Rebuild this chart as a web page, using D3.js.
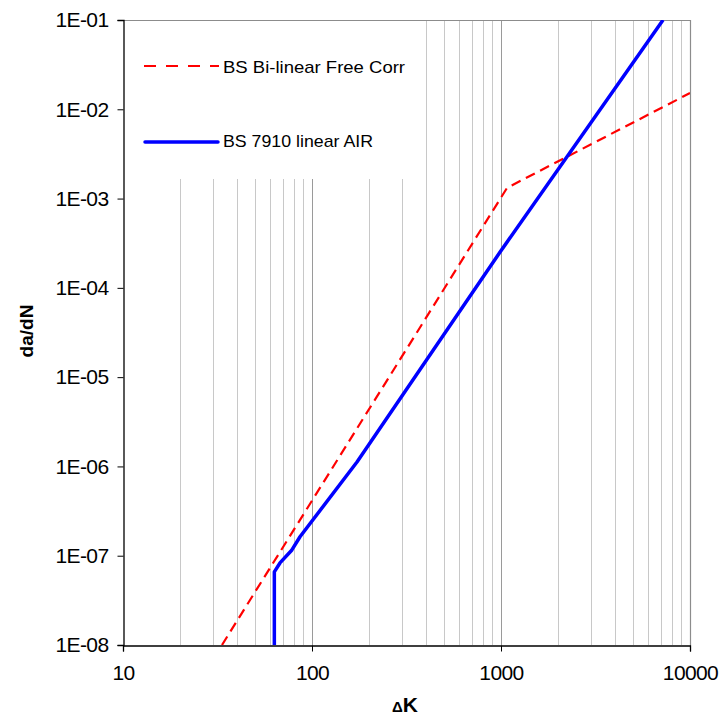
<!DOCTYPE html>
<html>
<head>
<meta charset="utf-8">
<script src="https://cdn.jsdelivr.net/npm/d3@7"></script>
<style>
  html, body { margin: 0; padding: 0; background: #fff; }
  svg { display: block; font-family: "Liberation Sans", Arial, sans-serif; }
</style>
</head>
<body>
<svg id="chart" width="725" height="716"></svg>
<script>
// Crack growth rate curves: da/dN versus stress intensity range
const xTickValues = [10, 100, 1000, 10000];
const xTickLabels = ["10", "100", "1000", "10000"];
const yTickValues = [1e-8, 1e-7, 1e-6, 1e-5, 1e-4, 1e-3, 1e-2, 1e-1];
const yTickLabels = ["1E-08", "1E-07", "1E-06", "1E-05", "1E-04", "1E-03", "1E-02", "1E-01"];

// BS bi-linear law, free corrosion
const freeCorrK    = [33.4, 1077, 10000];
const freeCorrRate = [1e-8, 1.32e-3, 1.52e-2];

// BS 7910 simplified linear law in air (with threshold)
const airK    = [63.2, 63.2, 67.7, 78.3, 86.4, 173, 989, 7200];
const airRate = [1e-8, 6.6e-8, 8.3e-8, 1.16e-7, 1.63e-7, 1.12e-6, 2.52e-4, 1e-1];

const seriesNames = ["BS Bi-linear Free Corr", "BS 7910 linear AIR"];

const svg = d3.select("#chart");
const plotL = 123, plotR = 690, plotT = 20, plotB = 645;

const x = d3.scaleLog().domain([10, 10000]).range([plotL, plotR]);
const y = d3.scaleLog().domain([1e-8, 1e-1]).range([plotB, plotT]);

// vertical grid lines at every minor and major decade step
const gridVals = [];
for (let d = 10; d < 10000; d *= 10) {
  for (let k = 1; k <= 9; k++) {
    const v = d * k;
    if (v > 10 && v < 10000) gridVals.push(v);
  }
}
svg.append("g").selectAll("line").data(gridVals).join("line")
  .attr("x1", d => Math.round(x(d)) + 0.5).attr("x2", d => Math.round(x(d)) + 0.5)
  .attr("y1", plotT).attr("y2", plotB)
  .attr("stroke", d => (d === 100 || d === 1000) ? "#9a9a9a" : "#c8c8c8")
  .attr("stroke-width", 1);

// plot frame: top and right edges grey
svg.append("line").attr("x1", plotL).attr("x2", plotR + 0.5).attr("y1", plotT + 0.5).attr("y2", plotT + 0.5)
  .attr("stroke", "#8c8c8c").attr("stroke-width", 1.2);
svg.append("line").attr("x1", plotR + 0.5).attr("x2", plotR + 0.5).attr("y1", plotT).attr("y2", plotB)
  .attr("stroke", "#8c8c8c").attr("stroke-width", 1.2);

// legend background hides the grid behind it
svg.append("rect").attr("x", plotL + 1).attr("y", plotT + 1)
  .attr("width", 291).attr("height", 158).attr("fill", "#fff");

// clip for data lines
svg.append("defs").append("clipPath").attr("id", "plotClip")
  .append("rect").attr("x", plotL).attr("y", plotT).attr("width", plotR - plotL).attr("height", plotB - plotT);

const line = d3.line().x(d => x(d[0])).y(d => y(d[1]));

const freeCorr = freeCorrK.map((k, i) => [k, freeCorrRate[i]]);
const air = airK.map((k, i) => [k, airRate[i]]);

const plot = svg.append("g").attr("clip-path", "url(#plotClip)");
plot.append("path").datum(freeCorr).attr("d", line)
  .attr("fill", "none").attr("stroke", "#ff0000").attr("stroke-width", 2.2)
  .attr("stroke-dasharray", "10,6").attr("stroke-linejoin", "round");
plot.append("path").datum(air).attr("d", line)
  .attr("fill", "none").attr("stroke", "#0000ff").attr("stroke-width", 3.5)
  .attr("stroke-linejoin", "round");

// axes
const yAxis = d3.axisLeft(y).tickValues(yTickValues)
  .tickFormat((d, i) => yTickLabels[i]).tickSizeOuter(0).tickSize(6).tickPadding(9);
const gy = svg.append("g").attr("transform", `translate(${plotL + 0.5},0)`).call(yAxis);
gy.select(".domain").attr("stroke", "#000").attr("stroke-width", 1.3);
gy.selectAll(".tick line").attr("stroke", "#000");
gy.selectAll(".tick text").attr("font-size", 21).attr("fill", "#000")
  .attr("font-family", "Liberation Sans, Arial, sans-serif").attr("letter-spacing", -0.6);

const xAxis = d3.axisBottom(x).tickValues(xTickValues)
  .tickFormat((d, i) => xTickLabels[i]).tickSizeOuter(0).tickSize(6).tickPadding(14);
const gx = svg.append("g").attr("transform", `translate(0,${plotB + 0.5})`).call(xAxis);
gx.select(".domain").attr("stroke", "#000").attr("stroke-width", 1.3);
gx.selectAll(".tick line").attr("stroke", "#000");
gx.selectAll(".tick text").attr("font-size", 21).attr("fill", "#000")
  .attr("font-family", "Liberation Sans, Arial, sans-serif").attr("letter-spacing", -0.6);

// axis titles
const xt = svg.append("text").attr("x", 392).attr("y", 712)
  .attr("font-weight", "bold").attr("fill", "#000");
xt.append("tspan").attr("font-size", 15).text("Δ");
xt.append("tspan").attr("font-size", 21).text("K");

svg.append("text")
  .attr("transform", "translate(33,331) rotate(-90)")
  .attr("text-anchor", "middle").attr("font-weight", "bold")
  .attr("font-size", 19).attr("fill", "#000").text("da/dN");

// legend
const legend = svg.append("g");
legend.append("line").attr("x1", 144).attr("x2", 219).attr("y1", 66).attr("y2", 66)
  .attr("stroke", "#ff0000").attr("stroke-width", 2.2).attr("stroke-dasharray", "12,10");
legend.append("line").attr("x1", 145).attr("x2", 218).attr("y1", 142).attr("y2", 142)
  .attr("stroke", "#0000ff").attr("stroke-width", 3.5).attr("stroke-linecap", "round");
legend.append("text").attr("x", 223).attr("y", 73).attr("font-size", 17)
  .attr("textLength", 182).attr("lengthAdjust", "spacingAndGlyphs")
  .attr("fill", "#000").text(seriesNames[0]);
legend.append("text").attr("x", 223).attr("y", 147).attr("font-size", 17)
  .attr("textLength", 150).attr("lengthAdjust", "spacingAndGlyphs")
  .attr("fill", "#000").text(seriesNames[1]);
</script>
</body>
</html>
